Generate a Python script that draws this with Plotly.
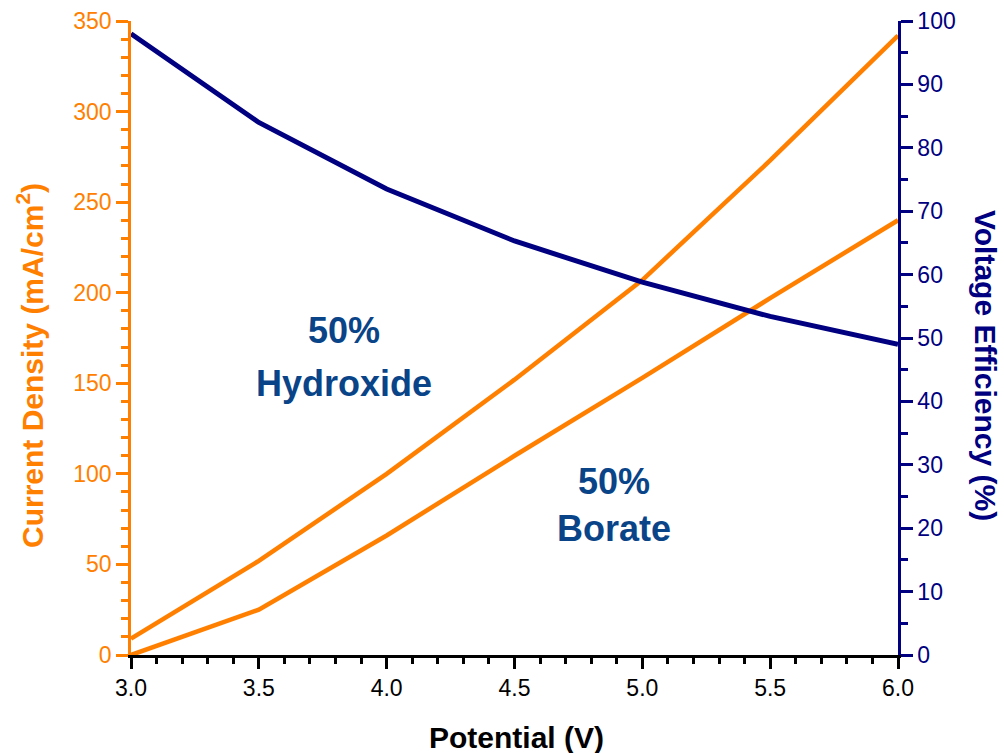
import plotly.graph_objects as go

potential = [3.0, 3.5, 4.0, 4.5, 5.0, 5.5, 6.0]
current_hydroxide = [9, 52, 100, 152, 207, 273, 342]
current_borate = [0, 25, 66, 110, 153, 197, 240]
voltage_efficiency = [98, 84, 73.5, 65.3, 58.8, 53.4, 49]

ORANGE = "#FF8000"
NAVY = "#000080"
LABEL = "#0A4488"
FONT = "Liberation Sans, Arial, sans-serif"

W, H = 1004, 753
pl, pr, pt, pb = 131, 106, 21, 98
pw, ph = W - pl - pr, H - pt - pb

fig = go.Figure()
fig.add_trace(go.Scatter(x=potential, y=current_hydroxide, mode="lines",
                         line=dict(color=ORANGE, width=4.5), name="50% Hydroxide"))
fig.add_trace(go.Scatter(x=potential, y=current_borate, mode="lines",
                         line=dict(color=ORANGE, width=4.5), name="50% Borate"))
fig.add_trace(go.Scatter(x=potential, y=voltage_efficiency, mode="lines",
                         line=dict(color=NAVY, width=5), name="Voltage Efficiency",
                         yaxis="y2"))

fig.update_layout(
    width=W, height=H,
    margin=dict(l=pl, r=pr, t=pt, b=pb, autoexpand=False),
    paper_bgcolor="white", plot_bgcolor="white",
    showlegend=False,
    font=dict(family=FONT, size=23),
    xaxis=dict(range=[3.0, 6.0], dtick=0.5, tick0=3.0, tickformat=".1f",
               showline=True, linecolor="black", linewidth=2.5, automargin=False,
               ticks="outside", ticklen=11, tickwidth=2.5, tickcolor="black",
               tickfont=dict(color="black", size=23),
               minor=dict(ticks="outside", ticklen=6, tickwidth=2.5, dtick=0.1, tickcolor="black"),
               showgrid=False, zeroline=False),
    yaxis=dict(range=[0, 350], dtick=50, automargin=False,
               showline=True, linecolor=ORANGE, linewidth=2.5,
               ticks="outside", ticklen=12, tickwidth=2.5, tickcolor=ORANGE,
               tickfont=dict(color=ORANGE, size=23),
               minor=dict(ticks="outside", ticklen=7, tickwidth=2.5, dtick=10, tickcolor=ORANGE),
               showgrid=False, zeroline=False),
    yaxis2=dict(range=[0, 100], dtick=10, overlaying="y", side="right", automargin=False,
                showline=True, linecolor=NAVY, linewidth=2.5,
                ticks="outside", ticklen=12, tickwidth=2.5, tickcolor=NAVY,
                tickfont=dict(color=NAVY, size=23),
                minor=dict(ticks="outside", ticklen=7, tickwidth=2.5, dtick=5, tickcolor=NAVY),
                showgrid=False, zeroline=False),
)

titles = [
    dict(text="Potential (V)", x=516, y=737, color="black", angle=0),
    dict(text="Current Density (mA/cm<sup>2</sup>)", x=30, y=366, color=ORANGE, angle=-90),
    dict(text="Voltage Efficiency (%)", x=986, y=365, color=NAVY, angle=90),
]
for a in titles:
    fig.add_annotation(text="<b>" + a["text"] + "</b>", xref="paper", yref="paper",
                       x=(a["x"] - pl) / pw, y=(H - pb - a["y"]) / ph,
                       xanchor="center", yanchor="middle", showarrow=False,
                       textangle=a["angle"],
                       font=dict(family=FONT, size=30, color=a["color"]))

labels = [
    ("50%", 3.833, 179), ("Hydroxide", 3.833, 150),
    ("50%", 4.889, 96), ("Borate", 4.889, 70),
]
for text, lx, ly in labels:
    fig.add_annotation(text="<b>" + text + "</b>", x=lx, y=ly, xref="x", yref="y",
                       showarrow=False, xanchor="center", yanchor="middle",
                       font=dict(family=FONT, size=36, color=LABEL))

fig.write_html("out.html")
